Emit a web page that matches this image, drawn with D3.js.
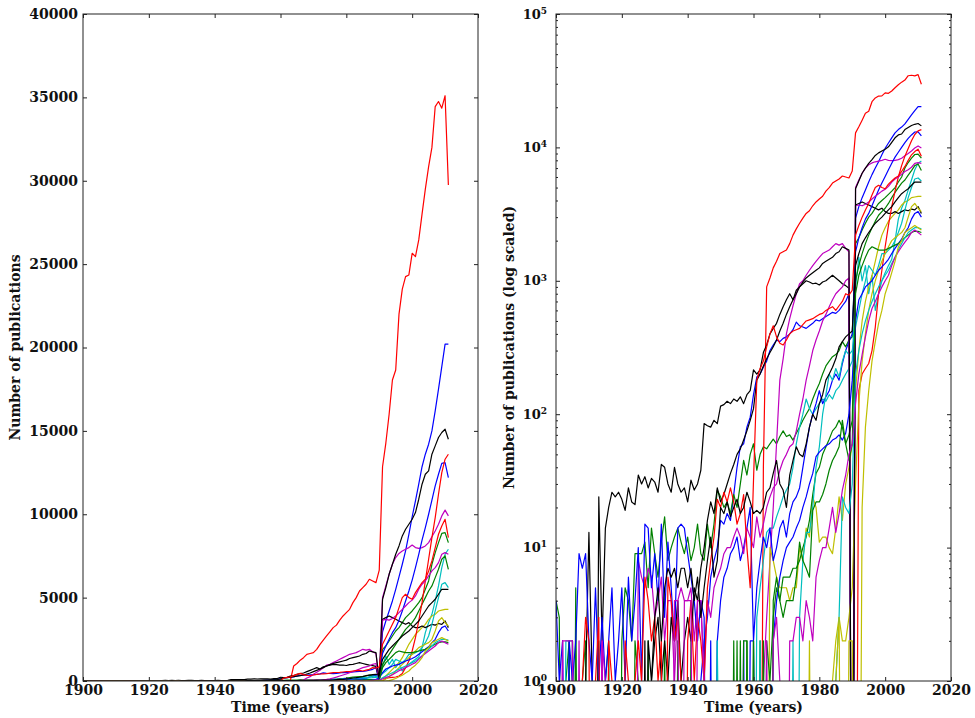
<!DOCTYPE html>
<html>
<head>
<meta charset="utf-8">
<script src="https://cdn.jsdelivr.net/npm/d3@7"></script>
<style>
  body { margin: 0; background: #fff; }
  svg text { font-family: "DejaVu Serif", serif; }
</style>
</head>
<body>
<svg id="chart" width="975" height="718"></svg>
<script>

// ----------------- DATA ----------------- //
const years = d3.range(1900, 2012);   // 1900 .. 2011, one value per year
const xTicks = [1900, 1920, 1940, 1960, 1980, 2000, 2020];
const linearTicks = [0, 5000, 10000, 15000, 20000, 25000, 30000, 35000, 40000];
const logTicks = [1, 10, 100, 1000, 10000, 100000];

const blue1 = [
  0,0,1,0,2,0,0,0,0,0,
  0,0,0,0,0,0,0,0,0,0,
  0,0,0,0,0,0,0,0,0,0,
  0,0,0,0,0,0,0,0,0,0,
  0,0,0,0,1,2,3,6,8,10,
  16,15,18,16,25,40,57,60,80,95,
  140,190,200,225,250,300,330,360,350,370,
  380,400,430,490,460,450,440,460,480,510,
  500,520,540,560,580,570,600,650,700,800,
  0,2950,3600,4200,4800,5500,6250,7000,7800,8800,
  9850,10800,11800,12850,13600,14200,15000,16200,17500,18850,
  20200,20200];
const green1 = [
  4,3,0,1,2,0,5,0,1,2,
  0,1,0,2,0,1,2,0,1,0,
  2,5,4,2,9,9,9,11,5,14,
  9,6,11,17,8,10,12,14,11,9,
  12,8,10,15,9,8,15,10,15,27,
  24,20,22,18,25,20,30,45,35,50,
  60,38,50,57,55,60,65,60,68,75,
  68,70,64,72,80,90,100,110,130,150,
  170,200,230,250,270,280,300,350,320,360,
  380,1900,2100,2400,2700,3000,3200,3500,3800,4000,
  4200,4450,4700,5000,5500,6000,7000,7700,8300,8850,
  8900,8300];
const red1 = [
  0,0,0,0,0,0,0,0,0,0,
  0,0,0,0,0,0,0,0,0,0,
  0,0,0,0,0,0,0,0,0,0,
  0,0,0,0,0,0,0,0,0,0,
  0,0,0,0,0,0,0,0,0,0,
  0,0,0,0,0,0,0,0,0,0,
  0,0,0,40,900,1050,1250,1400,1600,1650,
  1700,1900,2200,2450,2700,2950,3200,3350,3650,3900,
  4100,4300,4700,5000,5400,5600,5800,6100,6000,5900,
  6650,12850,14270,16000,18050,18650,22000,23500,24250,24350,
  25650,25450,26450,28000,29500,30850,32000,34450,34750,34350,
  35100,29750];
const cyan1 = [
  0,0,0,2,2,2,0,0,0,0,
  0,0,0,0,0,0,0,0,0,0,
  0,0,0,0,0,0,0,0,0,0,
  0,0,0,0,0,0,0,0,0,0,
  0,0,0,0,0,0,0,0,0,2,
  0,0,0,0,0,0,0,0,0,0,
  0,3,5,8,13,14,14,17,20,24,
  27,30,40,60,80,100,130,110,100,110,
  120,130,125,140,130,150,160,180,200,220,
  250,900,1500,1000,1300,800,1100,600,800,1000,
  1150,1300,1450,2000,2900,3500,4000,4800,5700,6800,
  7600,7900];
const magenta1 = [
  0,0,0,0,0,0,0,0,0,0,
  0,0,0,0,2,0,0,0,0,0,
  0,0,0,0,0,0,0,0,0,0,
  0,0,0,0,0,0,0,0,0,0,
  0,0,0,0,0,0,0,0,0,0,
  0,0,0,0,0,0,0,0,0,0,
  0,0,0,1,3,8,20,60,180,260,
  400,520,650,800,950,1000,1100,1200,1300,1400,
  1500,1600,1650,1700,1800,1900,1850,1900,1750,1650,
  0,5000,5700,6400,7000,7400,7650,7800,7900,8000,
  8150,8000,7950,8000,8100,8300,8650,9000,9400,9900,
  10250,9900];
const yellow1 = [
  0,0,0,0,0,0,0,0,0,0,
  0,0,0,0,0,0,0,0,0,0,
  0,0,0,0,0,0,0,0,0,0,
  0,0,0,0,0,0,0,0,0,0,
  0,0,0,0,0,0,0,0,0,0,
  0,0,0,0,0,0,0,0,0,0,
  0,0,0,0,0,10,8,6,5,5,
  5,4,5,5,10,8,14,12,24,20,
  11,12,12,10,9,14,24,16,30,40,
  60,150,300,500,700,900,1100,1400,1800,2200,
  2500,2800,3000,3200,3400,3700,3900,4000,4200,4250,
  4300,4300];
const black1 = [
  0,0,0,0,0,0,0,0,0,1,
  13,1,0,24,2,14,20,26,24,26,
  23,19,28,22,21,35,30,34,28,33,
  31,26,42,40,30,26,40,30,26,28,
  22,32,27,30,38,85,82,80,90,85,
  115,118,125,120,130,125,135,120,140,150,
  215,200,215,290,330,400,440,480,560,640,
  720,800,720,850,900,950,1000,980,950,960,
  930,980,1000,1050,1100,1050,1000,950,920,880,
  0,3700,3800,3900,3800,3700,3600,3500,3400,3500,
  3300,3200,3200,3300,3200,3300,3400,3350,3450,3400,
  3600,3200];
const blue2 = [
  0,0,0,0,0,0,0,0,0,0,
  0,0,0,0,0,0,0,0,0,0,
  1,0,0,0,0,0,0,0,0,0,
  0,0,0,0,0,0,0,0,0,0,
  0,0,0,0,0,0,0,2,0,2,
  4,6,7,9,10,12,8,10,14,20,
  2,5,8,12,10,14,8,10,14,16,
  12,18,22,24,28,40,57,80,100,120,
  150,120,135,150,180,200,180,240,300,350,
  400,1650,2100,2500,2900,3200,3650,4200,4800,5400,
  6050,6800,7600,8450,9200,10000,10850,11700,12400,13050,
  13100,12200];
const green2 = [
  0,0,0,0,0,2,0,0,0,0,
  0,0,0,0,0,0,0,0,0,0,
  0,0,0,0,2,1,0,0,2,0,
  0,0,0,2,0,0,0,2,0,0,
  0,2,0,0,0,0,0,0,0,0,
  0,0,0,0,2,0,2,0,2,0,
  2,0,2,0,2,1,3,5,4,6,
  6,6,7,7,8,10,12,16,25,36,
  40,50,57,65,75,80,90,80,60,70,
  90,1000,1300,1600,1900,2200,2500,2800,3100,3300,
  3500,3800,4200,4600,5000,5400,5700,6200,6700,7300,
  7500,6700];
const red2 = [
  0,0,0,0,0,0,0,0,0,0,
  0,0,0,0,0,0,0,0,0,0,
  0,0,0,0,0,0,0,0,0,0,
  0,0,0,0,0,0,0,0,0,0,
  0,0,0,0,0,0,0,0,0,0,
  0,0,0,0,0,0,0,0,0,0,
  0,0,0,0,0,0,0,0,0,0,
  0,0,0,0,0,0,0,0,0,0,
  0,0,0,0,0,0,0,0,0,0,
  0,0,150,200,220,240,300,450,800,1200,
  1800,2600,3600,4700,6000,7300,8600,9800,11200,12500,
  13300,13600];
const cyan2 = [
  0,0,0,0,0,0,0,0,0,0,
  0,0,0,0,0,0,0,0,0,0,
  0,0,0,0,0,0,0,0,0,0,
  0,0,0,0,0,0,0,0,0,0,
  0,0,0,0,0,0,0,0,0,2,
  0,0,0,0,0,0,0,0,0,0,
  0,0,2,0,0,0,0,0,0,0,
  0,0,2,0,3,8,13,13,20,40,
  57,100,140,200,180,220,190,250,300,280,
  300,450,600,800,1000,1300,1200,1100,1300,1600,
  1600,1700,1800,2000,2300,2700,3400,4200,5000,5800,
  5900,5600];
const magenta2 = [
  0,0,2,0,0,2,0,0,0,0,
  0,0,0,0,2,0,0,1,0,0,
  0,0,0,0,0,8,6,5,7,6,
  3,4,6,2,4,4,1,4,5,4,
  4,5,2,4,4,1,4,3,5,6,
  7,9,10,10,12,14,12,9,14,12,
  10,17,12,15,20,24,28,30,38,45,
  50,57,60,75,100,130,180,230,300,360,
  420,500,560,640,720,800,850,900,1000,1050,
  0,3650,3700,3650,3750,3900,4100,4300,4500,4700,
  4850,5100,5500,5800,6000,6300,6600,6800,7100,7600,
  7700,7600];
const yellow2 = [
  0,0,0,0,0,0,0,0,0,0,
  0,0,0,0,0,0,0,0,0,0,
  0,0,0,0,0,0,0,0,0,0,
  0,0,0,0,0,0,0,0,0,0,
  0,0,0,0,0,0,0,0,0,0,
  0,0,0,0,0,0,0,0,0,0,
  0,0,0,0,0,0,0,0,0,0,
  0,0,0,0,0,0,0,2,0,0,
  0,0,0,0,1,2,3,2,2,3,
  5,30,120,250,400,600,800,1000,1200,1400,
  1600,1800,2000,2100,2200,2300,2500,3000,3600,3800,
  3500,3300];
const black2 = [
  0,0,0,0,0,0,0,0,0,0,
  0,0,0,0,1,0,0,0,0,0,
  0,0,0,0,0,0,0,0,2,1,
  2,3,1,2,1,3,2,4,1,2,
  3,2,5,4,7,10,16,22,18,28,
  22,25,30,36,42,50,55,64,75,90,
  110,180,200,230,260,290,320,360,420,480,
  560,640,720,800,900,980,1050,1100,1150,1200,
  1250,1350,1400,1450,1500,1600,1650,1800,1750,1700,
  0,4900,5600,6400,7000,7600,8100,8700,9100,9400,
  9700,10100,10900,11800,12400,12600,13600,14100,14600,14900,
  15100,14500];
const blue3 = [
  4,1,2,0,2,1,2,9,7,9,
  2,1,5,1,3,1,2,5,1,2,
  5,1,6,2,4,10,1,15,14,5,
  9,4,15,3,11,5,2,14,15,14,
  9,6,4,2,4,3,0,0,0,0,
  0,0,0,0,0,0,0,2,0,2,
  2,0,0,0,0,0,2,4,6,8,
  10,11,12,14,16,20,24,30,36,48,
  52,55,58,60,64,66,70,64,72,100,
  180,500,720,800,900,950,1000,1100,1200,1270,
  1350,1450,1600,1750,1900,2050,2300,2500,2900,3200,
  3300,3000];
const green3 = [
  0,0,0,0,0,0,0,0,0,0,
  0,0,0,0,0,0,0,0,0,0,
  0,0,0,0,0,0,0,0,0,0,
  0,0,0,0,0,0,0,0,0,0,
  0,0,0,0,0,0,0,0,0,0,
  0,0,0,0,0,2,0,2,2,0,
  2,0,0,2,0,0,4,6,4,3,
  4,4,4,6,11,8,7,6,19,22,
  22,25,30,38,45,50,57,90,60,45,
  60,800,1100,1300,1500,1700,1800,1750,1700,1700,
  1700,1750,1800,1850,1900,2000,2100,2200,2300,2350,
  2350,2300];
const red3 = [
  0,0,0,0,0,0,0,0,1,3,
  2,0,1,3,0,0,2,1,0,1,
  0,2,1,0,1,2,1,6,4,2,
  3,1,2,0,6,4,2,3,1,0,
  2,4,1,3,2,1,5,8,12,23,
  20,26,22,28,22,15,18,25,10,5,
  32,180,220,250,320,400,460,380,340,330,
  360,400,420,430,440,470,500,510,520,540,
  560,570,600,620,640,600,650,700,800,780,
  850,2200,2600,3000,3400,3800,4400,5000,5200,5000,
  4900,5300,5600,5900,6100,6600,7200,8000,8800,9300,
  9700,8600];
const cyan3 = [
  0,0,0,0,0,0,0,0,0,0,
  0,0,0,0,0,0,0,0,0,0,
  0,0,0,0,0,0,0,0,0,0,
  0,0,0,0,0,0,0,0,0,0,
  0,0,0,0,0,0,0,0,0,0,
  0,0,0,0,0,0,0,0,0,0,
  0,0,0,0,0,0,0,0,0,0,
  0,0,0,0,0,0,0,0,0,0,
  0,0,0,0,0,1,3,24,20,18,
  30,200,300,400,500,600,700,800,900,1000,
  1100,1200,1350,1500,1700,1900,2100,2300,2400,2500,
  2500,2450];
const magenta3 = [
  0,0,2,2,2,2,0,2,0,0,
  0,0,0,0,2,1,0,0,0,0,
  0,0,0,0,0,0,0,0,0,0,
  0,0,0,0,0,0,4,4,0,4,
  4,4,0,4,4,1,0,0,0,0,
  0,0,0,0,0,0,0,0,0,0,
  0,0,0,0,2,0,2,3,1,0,
  0,2,2,3,3,2,4,3,2,6,
  8,10,10,14,20,13,18,27,35,50,
  60,120,200,280,380,500,620,700,800,900,
  1000,1100,1300,1500,1650,1800,1950,2100,2300,2400,
  2300,2200];
const yellow3 = [
  0,0,0,0,0,0,0,0,0,0,
  0,0,0,0,0,0,0,0,0,0,
  0,0,0,0,0,0,0,0,0,0,
  0,0,0,0,0,0,0,0,0,0,
  0,0,0,0,0,0,0,0,0,0,
  0,0,0,0,0,0,0,0,0,0,
  0,0,0,0,0,0,0,0,0,0,
  0,0,0,0,0,0,0,0,0,0,
  0,0,0,0,0,1,3,0,0,2,
  2,0,0,20,80,150,250,350,480,600,
  800,950,1150,1400,1800,2000,2300,2400,2500,2600,
  2500,2400];
const black3 = [
  0,0,0,0,0,0,0,0,0,0,
  0,0,0,1,0,0,0,0,0,0,
  0,0,0,0,0,1,0,2,0,1,
  3,5,2,5,7,6,7,5,7,7,
  5,7,4,6,3,5,8,12,6,8,
  20,18,22,17,20,23,18,20,26,22,
  18,19,18,20,26,28,36,45,30,27,
  20,35,45,57,50,48,60,80,100,90,
  120,140,180,200,225,260,320,350,380,400,
  420,1300,1600,1900,2100,2300,2500,2700,2850,3000,
  3200,3400,3600,3900,4200,4500,4700,4900,5200,5500,
  5500,5500];

// matplotlib default colour cycle: b g r c m y k
const series = [
  { values: blue1, color: '#0000ff' }, { values: green1, color: '#008000' },
  { values: red1, color: '#ff0000' }, { values: cyan1, color: '#00bfbf' },
  { values: magenta1, color: '#bf00bf' }, { values: yellow1, color: '#bfbf00' },
  { values: black1, color: '#000000' },
  { values: blue2, color: '#0000ff' }, { values: green2, color: '#008000' },
  { values: red2, color: '#ff0000' }, { values: cyan2, color: '#00bfbf' },
  { values: magenta2, color: '#bf00bf' }, { values: yellow2, color: '#bfbf00' },
  { values: black2, color: '#000000' },
  { values: blue3, color: '#0000ff' }, { values: green3, color: '#008000' },
  { values: red3, color: '#ff0000' }, { values: cyan3, color: '#00bfbf' },
  { values: magenta3, color: '#bf00bf' }, { values: yellow3, color: '#bfbf00' },
  { values: black3, color: '#000000' }
];
series.forEach((s, i) => { if (s.values.length !== years.length) console.error('series', i, s.values.length); });

// ----------------- LAYOUT ----------------- //
const plotTop = 14, plotBottom = 681;
const panels = [
  { name: 'lin', left: 83, right: 478, log: false, label: 'Number of publications', labelX: 20 },
  { name: 'log', left: 556, right: 951, log: true, label: 'Number of publications (log scaled)', labelX: 514 }
];
const frameColor = '#222';
const svg = d3.select('#chart');

function styleAxis(g) {
  g.select('.domain').remove();
  g.attr('font-family', 'DejaVu Serif').attr('font-size', 14)
    .attr('font-weight', 'bold').attr('color', frameColor);
  g.selectAll('.tick text').attr('fill', '#111');
}

// ----------------- PANEL ----------------- //
function drawPanel(p) {
  const x = d3.scaleLinear().domain([1900, 2020]).range([p.left, p.right]);
  const y = p.log
    ? d3.scaleLog().domain([1, 1e5]).range([plotBottom, plotTop])
    : d3.scaleLinear().domain([0, 40000]).range([plotBottom, plotTop]);

  const g = svg.append('g');

  g.append('clipPath').attr('id', 'clip-' + p.name)
    .append('rect')
    .attr('x', p.left).attr('y', plotTop)
    .attr('width', p.right - p.left).attr('height', plotBottom - plotTop);

  const line = d3.line()
    .x((d, i) => x(years[i]))
    .y(d => p.log ? y(Math.max(d, 1e-3)) : y(d));

  g.append('g').attr('clip-path', 'url(#clip-' + p.name + ')')
    .selectAll('path')
    .data(series)
    .join('path')
    .attr('d', s => line(s.values))
    .attr('fill', 'none')
    .attr('stroke', s => s.color)
    .attr('stroke-width', 1.2)
    .attr('stroke-linejoin', 'round');

  // ticks point inward on all four sides
  g.append('g').attr('transform', 'translate(0,' + plotBottom + ')')
    .call(d3.axisBottom(x).tickValues(xTicks).tickFormat(d3.format('d'))
      .tickSizeInner(-4).tickSizeOuter(0).tickPadding(4))
    .call(styleAxis);
  g.append('g').attr('transform', 'translate(0,' + plotTop + ')')
    .call(d3.axisTop(x).tickValues(xTicks).tickFormat('').tickSizeInner(-4).tickSizeOuter(0))
    .call(styleAxis);

  const yTicks = p.log ? logTicks : linearTicks;
  const left = g.append('g').attr('transform', 'translate(' + p.left + ',0)')
    .call(d3.axisLeft(y).tickValues(yTicks).tickFormat(p.log ? () => '' : d3.format('d'))
      .tickSizeInner(-4).tickSizeOuter(0).tickPadding(p.log ? 9 : 5))
    .call(styleAxis);
  g.append('g').attr('transform', 'translate(' + p.right + ',0)')
    .call(d3.axisRight(y).tickValues(yTicks).tickFormat('').tickSizeInner(-4).tickSizeOuter(0))
    .call(styleAxis);

  if (p.log) {
    // 10^n labels
    left.selectAll('.tick text').each(function (d) {
      const t = d3.select(this);
      t.attr('font-size', 13).text('10');
      t.append('tspan').attr('dy', '-0.55em').attr('font-size', 9).text(Math.round(Math.log10(d)));
    });
    // minor ticks
    const minor = [];
    for (let e = 0; e < 5; e++) for (let m = 2; m < 10; m++) minor.push(m * Math.pow(10, e));
    g.append('g').attr('transform', 'translate(' + p.left + ',0)')
      .call(d3.axisLeft(y).tickValues(minor).tickFormat('').tickSizeInner(-2).tickSizeOuter(0))
      .call(styleAxis);
    g.append('g').attr('transform', 'translate(' + p.right + ',0)')
      .call(d3.axisRight(y).tickValues(minor).tickFormat('').tickSizeInner(-2).tickSizeOuter(0))
      .call(styleAxis);
  }

  // frame
  g.append('rect')
    .attr('x', p.left).attr('y', plotTop)
    .attr('width', p.right - p.left).attr('height', plotBottom - plotTop)
    .attr('fill', 'none').attr('stroke', frameColor).attr('stroke-width', 1);

  // axis labels
  g.append('text')
    .attr('x', (p.left + p.right) / 2).attr('y', 712)
    .attr('text-anchor', 'middle').attr('font-size', 14).attr('font-weight', 'bold')
    .attr('fill', '#111')
    .text('Time (years)');
  g.append('text')
    .attr('transform', 'translate(' + p.labelX + ',' + (plotTop + plotBottom) / 2 + ') rotate(-90)')
    .attr('text-anchor', 'middle').attr('font-size', 14).attr('font-weight', 'bold')
    .attr('fill', '#111')
    .text(p.label);
}

panels.forEach(drawPanel);
</script>
</body>
</html>
